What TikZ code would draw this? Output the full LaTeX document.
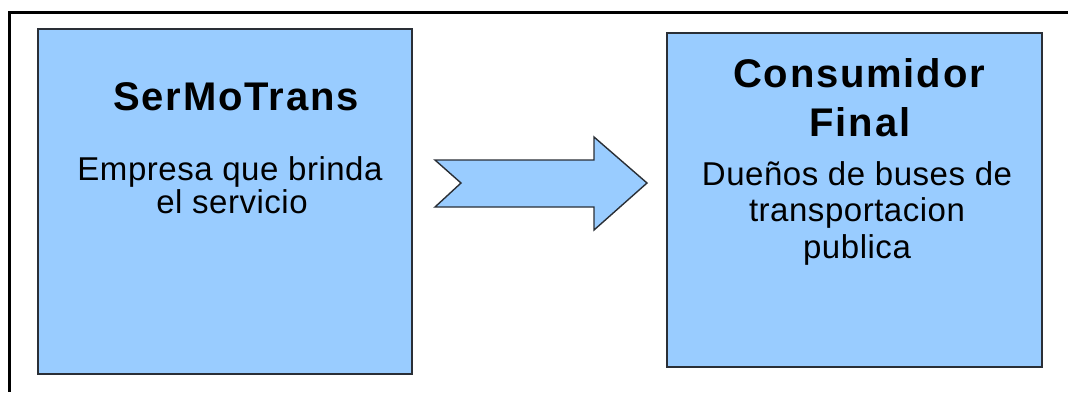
\documentclass[tikz,border=0pt]{standalone}
\usepackage{fontspec}
\setmainfont{Liberation Sans}
\newfontfamily\ttlfont[LetterSpace=4.5]{Liberation Sans Bold}
\newfontfamily\txtfont[LetterSpace=1.6]{Liberation Sans}
\definecolor{boxblue}{HTML}{99CCFF}
\definecolor{boxedge}{HTML}{2A2F36}
\tikzset{
  panel/.style={draw=boxedge, fill=boxblue, line width=1.6pt},
  ttl/.style={anchor=base, inner sep=0pt, font=\ttlfont\fontsize{40}{48}\selectfont},
  txt/.style={anchor=base, inner sep=0pt, font=\txtfont\fontsize{33}{34}\selectfont},
  frameline/.style={line width=3pt, black}
}
\begin{document}
\begin{tikzpicture}[x=1pt,y=-1pt]
\useasboundingbox (0,0) rectangle (1068,392);
\fill[white] (0,0) rectangle (1068,392);
% outer frame (open on right and bottom)
\draw[frameline] (1068,12.5) -- (9.5,12.5) -- (9.5,392);
% boxes
\node[panel, minimum width=374pt, minimum height=345pt, inner sep=0pt] (left) at (225,201.5) {};
\node[panel, minimum width=375pt, minimum height=334pt, inner sep=0pt] (right) at (854.5,200) {};
% arrow
\draw[panel, line width=1.4pt, line join=miter]
  (435,160) -- (594,160) -- (594,137) -- (647,183) -- (594,230) -- (594,207) -- (435,207) -- (461,183) -- cycle;
% left texts
\node[ttl] (lt) at (236,110) {SerMoTrans};
\node[txt] (l1) at (230,180) {Empresa que brinda};
\node[txt] (l2) at (232,213) {el servicio};
% right texts
\node[ttl] (rt1) at (859,87) {Consumidor};
\node[ttl] (rt2) at (860,136) {Final};
\node[txt] (r1) at (857,185) {Dueños de buses de};
\node[txt] (r2) at (857,221.5) {transportacion};
\node[txt] (r3) at (857,258) {publica};
\end{tikzpicture}
\end{document}
